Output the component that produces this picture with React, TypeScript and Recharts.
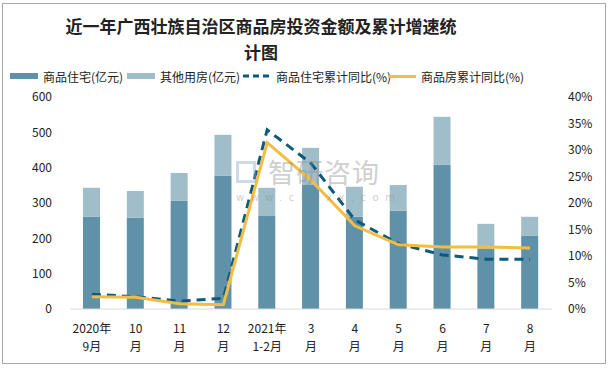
import { ComposedChart, Bar, Line, XAxis, YAxis } from 'recharts'

const months = ['2020年|9月', '10|月', '11|月', '12|月', '2021年|1-2月', '3|月', '4|月', '5|月', '6|月', '7|月', '8|月']
// 亿元
const residential = [261, 258, 306, 378, 263, 351, 261, 278, 408, 170, 207]
const other = [82, 76, 79, 115, 80, 105, 85, 73, 136, 71, 54]
// 累计同比 (%)
const resGrowth = [2.8, 2.3, 1.5, 2.0, 33.8, 27.5, 16.8, 12.3, 10.2, 9.4, 9.4]
const allGrowth = [2.3, 2.2, 1.0, 0.8, 31.4, 24.3, 15.7, 12.1, 11.7, 11.7, 11.5]
const leftTicks = [0, 100, 200, 300, 400, 500, 600]
const rightTicks = [0, 5, 10, 15, 20, 25, 30, 35, 40]

const DARK = '#5f91a8'
const LIGHT = '#a0bdca'
const TEAL = '#0d5b7c'
const GOLD = '#f2bd42'
const FONT = '"Noto Sans CJK SC", "Liberation Sans", sans-serif'

const data = months.map((m, i) => ({
  name: m,
  residential: residential[i],
  other: other[i],
  resGrowth: resGrowth[i],
  allGrowth: allGrowth[i],
}))

function MonthTick({ x, y, payload }: any) {
  const [a, b] = String(payload.value).split('|')
  return (
    <g transform={`translate(${x},${y})`}>
      <text textAnchor="middle" fontSize={12} fill="#222" fontFamily={FONT}>
        <tspan x={0} dy={16}>{a}</tspan>
        <tspan x={0} dy={18}>{b}</tspan>
      </text>
    </g>
  )
}

function LegendItem({ left, label, kind }: { left: number; label: string; kind: string }) {
  let swatch
  if (kind === 'dash') {
    swatch = (
      <svg width={28} height={6} style={{ display: 'block' }}>
        <line x1={0} y1={3} x2={28} y2={3} stroke={TEAL} strokeWidth={3} strokeDasharray="6 4" />
      </svg>
    )
  } else {
    const c = kind === 'dark' ? DARK : kind === 'light' ? LIGHT : GOLD
    swatch = <div style={{ width: 28, height: kind === 'gold' ? 3 : 6, background: c }} />
  }
  return (
    <div style={{ position: 'absolute', left, top: 0, display: 'flex', alignItems: 'center', gap: 5, height: 18 }}>
      {swatch}
      <span style={{ fontSize: 12, color: '#222', whiteSpace: 'nowrap' }}>{label}</span>
    </div>
  )
}

export default function App() {
  return (
    <div
      style={{
        position: 'absolute',
        left: 0,
        top: 0,
        width: 612,
        height: 368,
        background: '#fff',
        fontFamily: FONT,
        overflow: 'hidden',
      }}
    >
      <div
        style={{
          position: 'absolute',
          left: 2,
          top: 3,
          width: 604,
          height: 361,
          border: '1px solid #a6a6a6',
          boxSizing: 'border-box',
        }}
      />
      {/* 标题 */}
      <div
        style={{
          position: 'absolute',
          left: 41,
          top: 13,
          width: 440,
          textAlign: 'center',
          fontSize: 17,
          fontWeight: 700,
          lineHeight: '26px',
          color: '#222',
          whiteSpace: 'nowrap',
        }}
      >
        近一年广西壮族自治区商品房投资金额及累计增速统
        <br />
        计图
      </div>
      {/* 图例 */}
      <div style={{ position: 'absolute', left: 10, top: 67, width: 600, height: 18 }}>
        <LegendItem left={0} label="商品住宅(亿元)" kind="dark" />
        <LegendItem left={117} label="其他用房(亿元)" kind="light" />
        <LegendItem left={233} label="商品住宅累计同比(%)" kind="dash" />
        <LegendItem left={378} label="商品房累计同比(%)" kind="gold" />
      </div>
      <ComposedChart
        width={612}
        height={368}
        data={data}
        margin={{ top: 97, right: 5, bottom: 0, left: 8 }}
        style={{ position: 'absolute', left: 0, top: 0 }}
      >
        <XAxis
          dataKey="name"
          axisLine={{ stroke: '#d9d9d9' }}
          tickLine={false}
          interval={0}
          tick={<MonthTick />}
          height={59}
        />
        <YAxis
          yAxisId="left"
          width={62}
          domain={[0, 600]}
          ticks={leftTicks}
          axisLine={false}
          tickLine={false}
          tick={{ fontSize: 12, fill: '#222' }}
          tickMargin={12}
        />
        <YAxis
          yAxisId="right"
          orientation="right"
          width={55}
          domain={[0, 40]}
          ticks={rightTicks}
          tickFormatter={(v: number) => `${v}%`}
          axisLine={false}
          tickLine={false}
          tick={{ fontSize: 12, fill: '#222', textAnchor: 'start' }}
          tickMargin={10}
        />
        <Bar yAxisId="left" dataKey="residential" stackId="a" fill={DARK} barSize={17} isAnimationActive={false} />
        <Bar yAxisId="left" dataKey="other" stackId="a" fill={LIGHT} barSize={17} isAnimationActive={false} />
        <Line
          yAxisId="right"
          type="linear"
          dataKey="resGrowth"
          stroke={TEAL}
          strokeWidth={3}
          strokeDasharray="9 6"
          dot={false}
          isAnimationActive={false}
        />
        <Line
          yAxisId="right"
          type="linear"
          dataKey="allGrowth"
          stroke={GOLD}
          strokeWidth={3}
          dot={false}
          isAnimationActive={false}
        />
      </ComposedChart>
      {/* 水印 */}
      <div style={{ position: 'absolute', left: 236, top: 156, opacity: 0.4, pointerEvents: 'none' }}>
        <div style={{ display: 'flex', alignItems: 'center', gap: 12, height: 32 }}>
          <div style={{ width: 20, height: 22, border: '3px solid #8aa5c8', boxSizing: 'border-box' }} />
          <span style={{ fontSize: 27, lineHeight: '32px', color: '#8c8c8c', letterSpacing: 1 }}>智研咨询</span>
        </div>
        <div
          style={{
            fontSize: 10,
            lineHeight: '12px',
            marginTop: 4,
            color: '#8c8c8c',
            letterSpacing: 6.5,
            fontFamily: 'DejaVu Sans',
          }}
        >
          www.chyxx.com
        </div>
      </div>
    </div>
  )
}
